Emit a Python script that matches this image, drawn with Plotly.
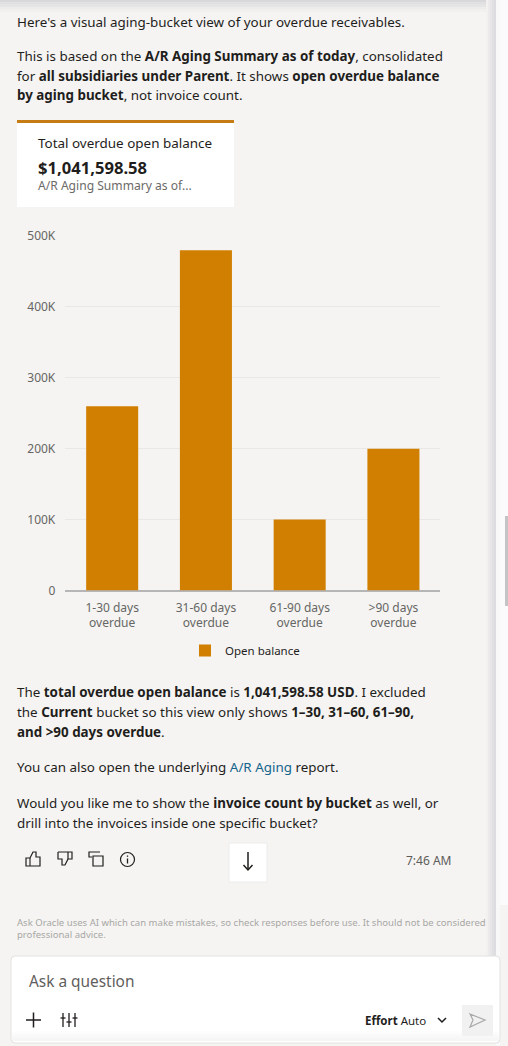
import plotly.graph_objects as go

W, H = 508, 1046
categories = ["1-30 days<br>overdue", "31-60 days<br>overdue", "61-90 days<br>overdue", ">90 days<br>overdue"]
open_balance = [260000, 480000, 100000, 200000]
series_name = "Open balance"
tick_values = [0, 100000, 200000, 300000, 400000, 500000]
tick_labels = ["0", "100K", "200K", "300K", "400K", "500K"]

FONT = "Noto Sans"
INK = "#1f1e1c"
ORANGE = "#d07f00"
BG = "#f5f4f2"
BODY = 13.4

fig = go.Figure()
fig.add_trace(go.Bar(x=categories, y=open_balance, name=series_name,
                     marker=dict(color=ORANGE, line=dict(width=0)), showlegend=True))

shapes, notes = [], []
fx = lambda x: x / W
fy = lambda y: 1 - y / H

def rect(x0, y0, x1, y1, fill, line=None, lw=1, layer="below"):
    shapes.append(dict(type="rect", xref="paper", yref="paper", x0=fx(x0), x1=fx(x1), y0=fy(y0), y1=fy(y1),
                       fillcolor=fill, line=dict(color=line or fill, width=lw if line else 0), layer=layer))

def path(pts, color=INK, lw=1.4, closed=False, fill=None):
    d = "M " + " L ".join(f"{fx(a):.5f},{fy(b):.5f}" for a, b in pts) + (" Z" if closed else "")
    shapes.append(dict(type="path", xref="paper", yref="paper", path=d, layer="above",
                       line=dict(color=color, width=lw), fillcolor=fill or "rgba(0,0,0,0)"))

def circle(cx, cy, r, color=INK, lw=1.3):
    shapes.append(dict(type="circle", xref="paper", yref="paper", x0=fx(cx-r), x1=fx(cx+r), y0=fy(cy+r), y1=fy(cy-r),
                       line=dict(color=color, width=lw), layer="above"))

def text(x, y, s, size=BODY, color=INK, anchor="left"):
    x = x - 2 if anchor == "left" else x + 2
    notes.append(dict(xref="paper", yref="paper", x=fx(x), y=fy(y), text=s, showarrow=False, xanchor=anchor, yanchor="middle",
                      align=anchor, font=dict(family=FONT, size=size, color=color)))

# page furniture: top and right shadows, sidebar, scrollbar
for i, c in enumerate(["#d8d8db", "#dedee0", "#e5e5e6", "#ebebeb", "#f1f0ef"]):
    rect(0, i * 2.4, 496, (i + 1) * 2.4, c)
for i, c in enumerate(["#f2f1f0", "#eceaeb", "#e6e5e7", "#e0e0e3", "#dddde0"]):
    rect(486 + i * 2, 0, 488 + i * 2, 956, c)
rect(496, 0, 500, 1046, "#f8f8f8")
rect(500, 0, 508, 905, "#fbfbfb")
rect(505, 516, 510, 606, "#c4c4c4")

# intro copy
text(17, 22, "Here's a visual aging-bucket view of your overdue receivables.")
text(17, 56, "This is based on the <b>A/R Aging Summary as of today</b>, consolidated")
text(17, 76, "for <b>all subsidiaries under Parent</b>. It shows <b>open overdue balance</b>")
text(17, 95, "<b>by aging bucket</b>, not invoice count.")

# KPI card
rect(17, 120, 234, 207, "#ffffff")
rect(17, 120, 234, 123, "#c67c14")
text(38, 143, "Total overdue open balance", 13.45)
text(38, 167, "<b>$1,041,598.58</b>", 16.6)
text(38, 186, "A/R Aging Summary as of...", 12.1, "#6b6a68")

# closing copy
text(17, 692, "The <b>total overdue open balance</b> is <b>1,041,598.58 USD</b>. I excluded")
text(17, 712, "the <b>Current</b> bucket so this view only shows <b>1–30, 31–60, 61–90,</b>")
text(17, 732, "<b>and &gt;90 days overdue</b>.")
text(17, 767, "You can also open the underlying <span style='color:#14648c'>A/R Aging</span> report.")
text(17, 803, "Would you like me to show the <b>invoice count by bucket</b> as well, or")
text(17, 823, "drill into the invoices inside one specific bucket?")

# action icons
path([(26,866),(26,858),(30,858),(33,852),(36,852),(36,857),(40,857),(40,866)], lw=1.2, closed=True)
path([(30,858),(30,866)], lw=1.1)
path([(58,852),(72,852),(72,859),(68,859),(68,852)], lw=1.2)
path([(58,852),(58,859),(62,859),(62,865),(65,865),(68,859)], lw=1.2)
path([(92,857),(89,857),(89,852),(100,852)], lw=1.2)
path([(93,856),(103,856),(103,866),(93,866)], lw=1.2, closed=True)
circle(127.5, 859.5, 7, lw=1.2)
path([(127.5,858.5),(127.5,863.5)], lw=1.3)
path([(127.5,855.5),(127.5,856.8)], lw=1.3)

# scroll-down button
rect(229, 843, 267, 882, "#ffffff", "#ececec", 1)
path([(248,852),(248,870)], lw=1.5)
path([(243.5,865),(248,870),(252.5,865)], lw=1.5)
text(451, 860, "7:46 AM", 12, "#5d5c5a", "right")

# disclaimer
text(17, 922, "Ask Oracle uses AI which can make mistakes, so check responses before use. It should not be considered", 9.55, "#a8a7a5")
text(17, 934, "professional advice.", 9.55, "#a8a7a5")

# composer
shapes.append(dict(type="path", xref="paper", yref="paper", layer="below",
    path=f"M {fx(15)},{fy(956)} L {fx(496)},{fy(956)} Q {fx(500)},{fy(956)} {fx(500)},{fy(960)} L {fx(500)},{fy(1039)} Q {fx(500)},{fy(1043)} {fx(496)},{fy(1043)} L {fx(15)},{fy(1043)} Q {fx(11)},{fy(1043)} {fx(11)},{fy(1039)} L {fx(11)},{fy(960)} Q {fx(11)},{fy(956)} {fx(15)},{fy(956)} Z",
    fillcolor="#ffffff", line=dict(color="#e3e2e0", width=1)))
for i, c in enumerate(["#fdfdfd", "#fbfbfb", "#f9f9f9", "#f7f7f7", "#f6f6f6"]):
    rect(12, 1031 + i * 2, 499, 1033 + i * 2, c)
text(29, 981, "Ask a question", 15.4, "#5f5e5c")
path([(26,1020),(41,1020)], lw=1.5)
path([(33.5,1012.5),(33.5,1027.5)], lw=1.5)
for x, y in [(63, 1018), (69, 1022), (75, 1018)]:
    path([(x,1013),(x,1027)], lw=1.3)
    path([(x-2.5,y),(x+2.5,y)], lw=1.3)
text(365, 1020, "<b>Effort</b> Auto", 11.5)
path([(438,1018),(442,1022),(446,1018)], lw=1.5)
rect(462, 1005, 493, 1036, "#f1f1f1")
path([(470,1014),(485,1020),(470,1027),(473,1020)], color="#a9a9a9", lw=1.2, closed=True)

fig.update_layout(
    width=W, height=H, autosize=False, margin=dict(l=0, r=0, t=0, b=0, autoexpand=False),
    paper_bgcolor=BG, plot_bgcolor="rgba(0,0,0,0)",
    bargap=0.445, shapes=shapes, annotations=notes,
    font=dict(family=FONT, size=12, color="#666664"),
    xaxis=dict(domain=[fx(65.3), fx(440.3)], type="category", showgrid=False, ticks="", showline=False,
               tickfont=dict(family=FONT, size=12, color="#666664"), fixedrange=True, ticklabelstandoff=8),
    yaxis=dict(domain=[fy(590.5), fy(236)], range=[0, 500000], tickvals=tick_values, ticktext=tick_labels,
               gridcolor="#e9e8e6", gridwidth=1, zeroline=True, zerolinecolor="#b6b6b6", zerolinewidth=2,
               showline=False, ticks="", tickfont=dict(family=FONT, size=12, color="#666664"), fixedrange=True,
               ticklabelstandoff=9),
    legend=dict(orientation="h", x=fx(245), y=fy(650.5), xanchor="center", yanchor="middle",
                bgcolor="rgba(0,0,0,0)", font=dict(family=FONT, size=11.5, color=INK)),
    hovermode=False,
)
fig.write_html("out.html", config=dict(displayModeBar=False),
               post_script="document.body.style.margin='0';document.documentElement.style.overflow='hidden';")
